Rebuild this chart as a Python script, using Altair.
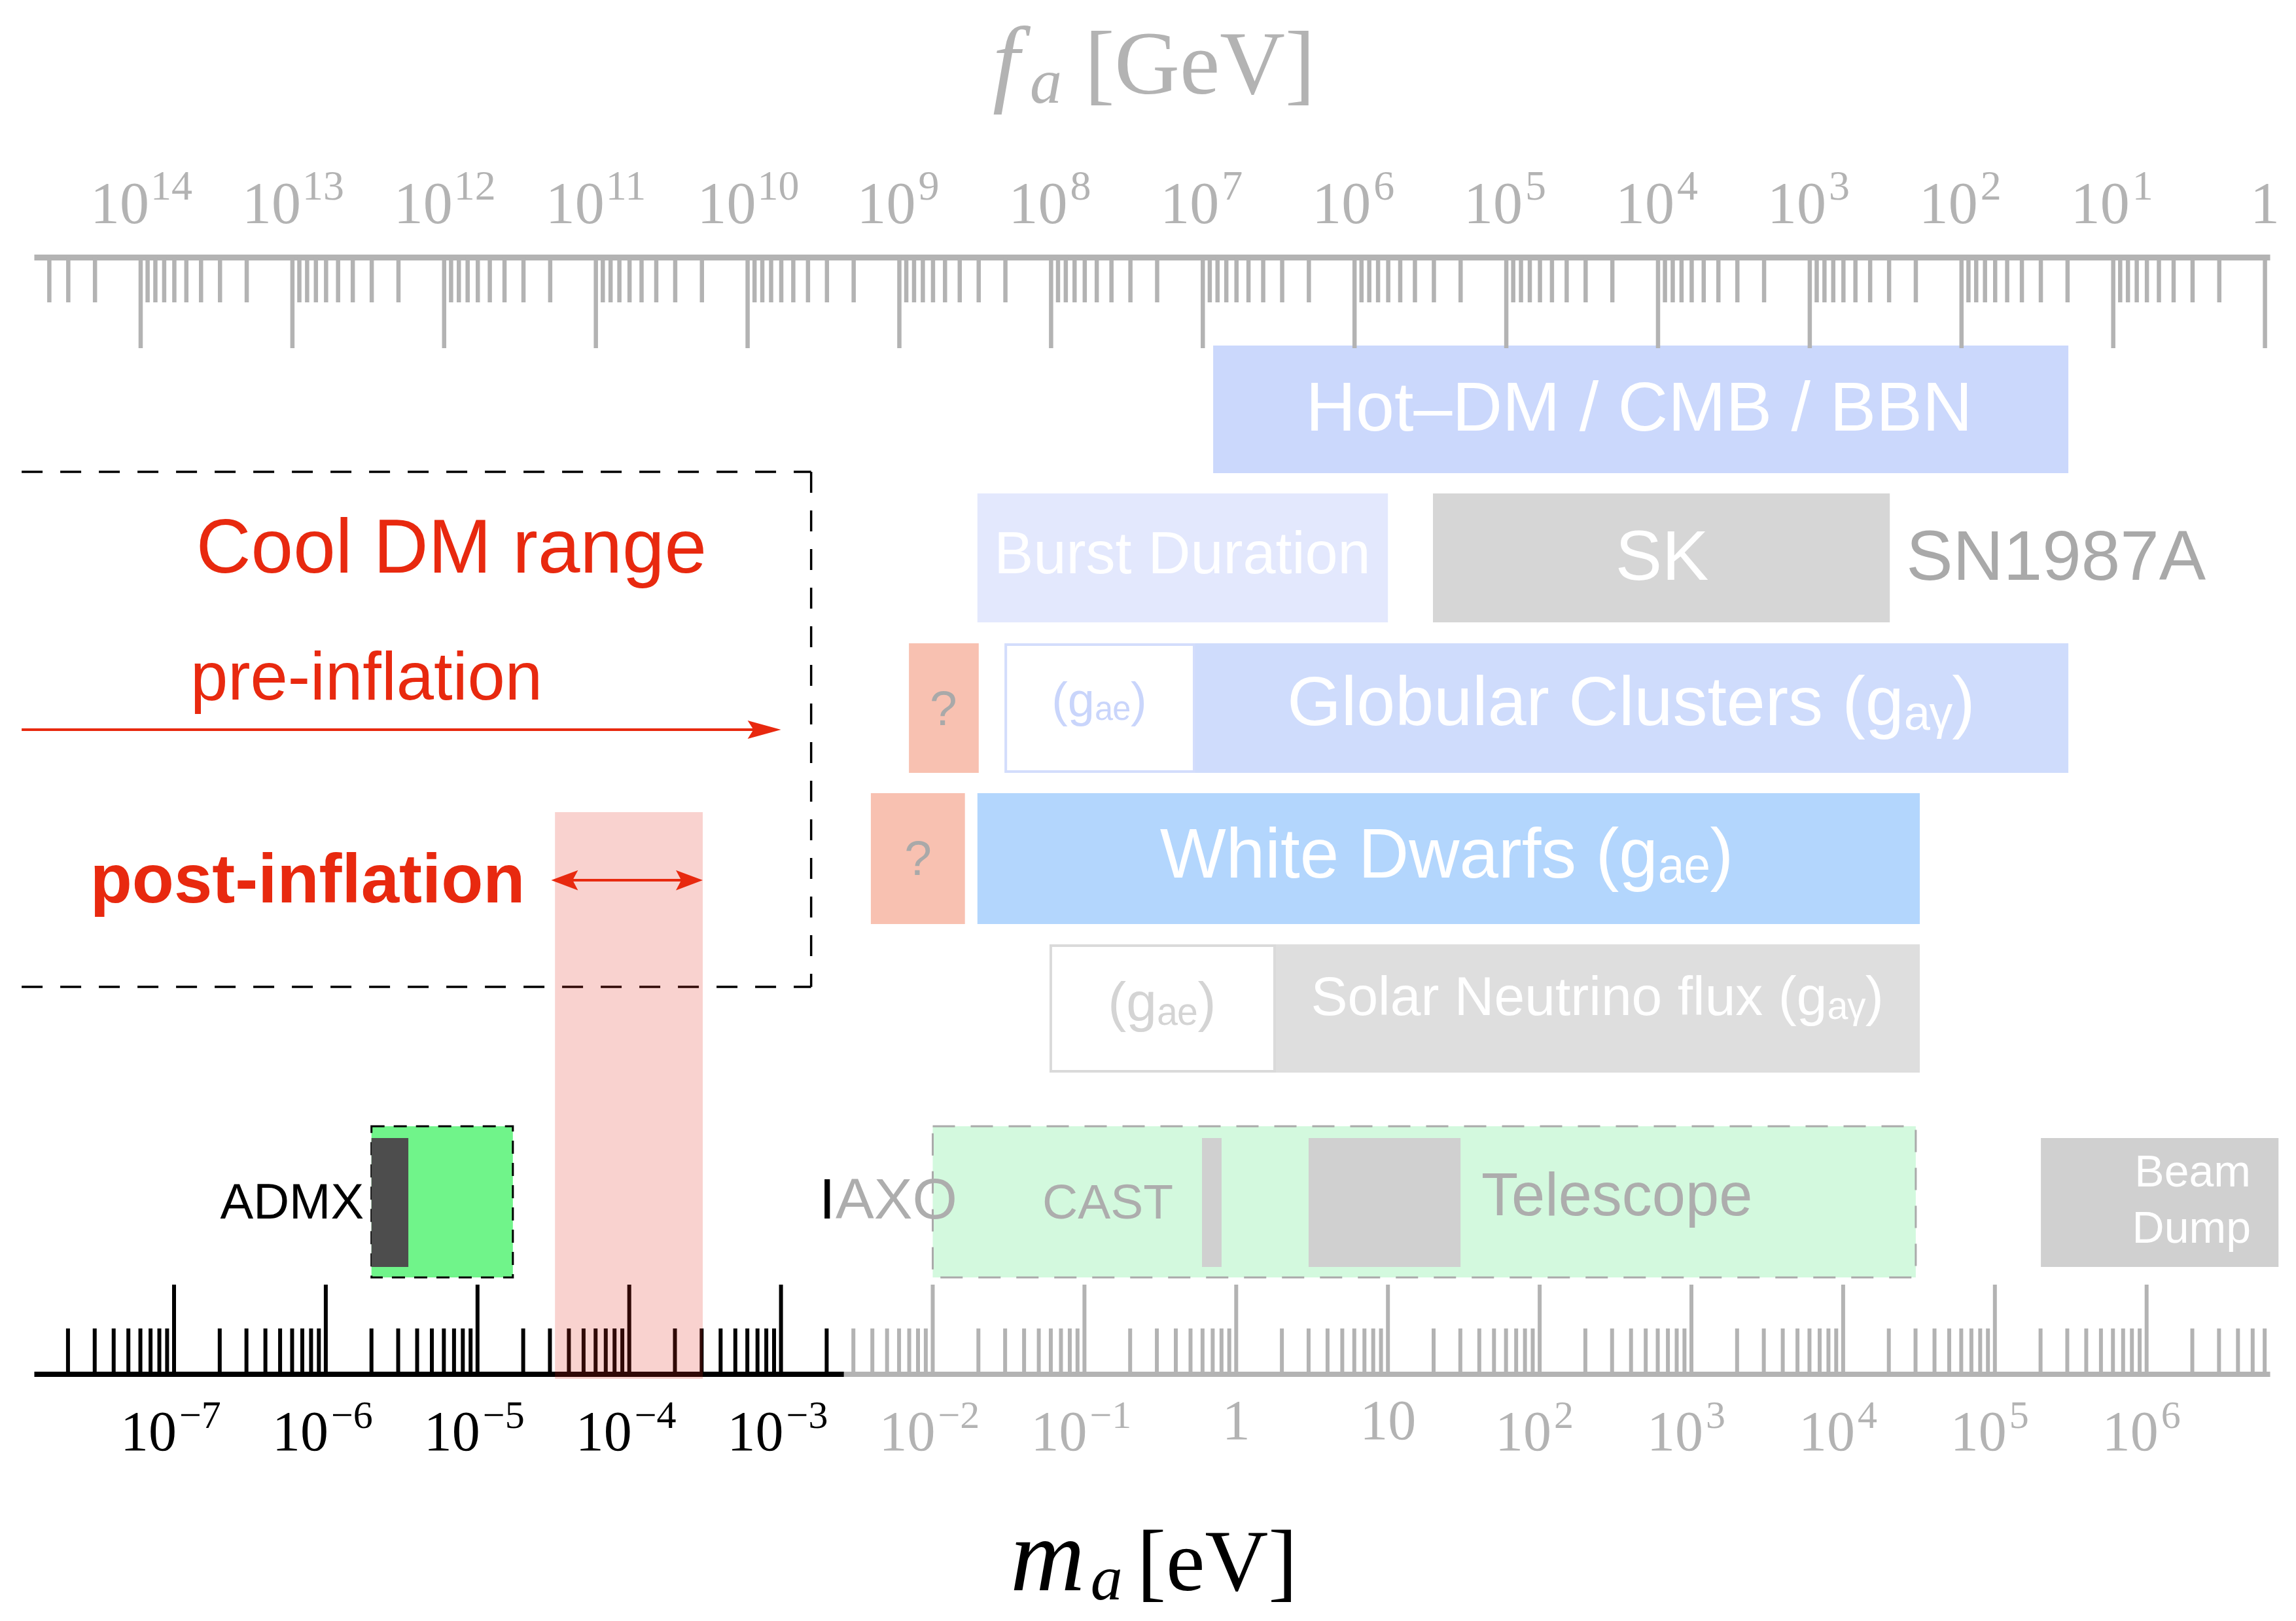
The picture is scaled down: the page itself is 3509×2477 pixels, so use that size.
import math
import altair as alt
import pandas as pd

# ---------------- page / scale calibration ----------------
PAGE_W, PAGE_H, MARGIN = 3509, 2477, 8
W, H = PAGE_W - 2 * MARGIN, PAGE_H - 2 * MARGIN
PX_REF, LOG_REF, PX_PER_DEC = 266.0, -7.0, 231.9      # 10^-7 eV tick and decade width
XMIN = LOG_REF - (PX_REF - MARGIN) / PX_PER_DEC
XMAX = XMIN + W / PX_PER_DEC
LOG_MF = 6.78                                          # log10(m_a[eV] * f_a[GeV])

# ---------------- axis data ----------------
M_DECADES = list(range(-8, 7))
F_DECADES = list(range(0, 15))
MULTS = [1, 2, 3, 4, 5, 6, 7, 8, 9]
M_LABEL_EXP = list(range(-7, 7))
F_LABEL_EXP = list(range(0, 15))
AXIS_LO, AXIS_HI = 1.2e-8, 6.52e6        # extent of both axes [eV]
DARK_LIMIT = 2.6e-3                      # m_a axis is black left of this [eV]

# ---------------- filled regions [eV] ----------------
REGION_LO = [0.705, 0.0197, 19.8, 0.00697, 0.528, 0.00391, 0.0197, 1.79, 2.01e5]
REGION_HI = [3.05e5, 10.0, 2.03e4, 0.0201, 3.05e5, 0.0163, 3.2e4, 3.2e4, 7.4e6]
REGION_ROW = ["hot", "sn", "sn", "gc", "gc", "wd", "wd", "solar", "exp_in"]
REGION_FILL = ["#cbd8fc", "#e3e8fd", "#d6d6d6", "#f8c1b1", "#cfdcfc",
               "#f8c1b1", "#b3d6fd", "#dedede", "#d0d0d0"]

OPEN_LO = [0.0303, 0.060]
OPEN_HI = [0.528, 1.79]
OPEN_ROW = ["gc", "solar"]
OPEN_STROKE = ["#d3ddfc", "#dadada"]

ADMX_RANGE = [2.0e-6, 1.71e-5]
ADMX_SCANNED = [2.0e-6, 3.5e-6]
IAXO_RANGE = [1.0e-2, 3.01e4]
INNER_LO = [0.595, 3.0]           # CAST, telescope
INNER_HI = [0.801, 30.1]
POST_RANGE = [3.24e-5, 3.05e-4]
COOL_BOX = [9.9e-9, 1.58e-3]
PRE_ARROW = [9.9e-9, 1.0e-3]

# ---------------- layout (page pixels, vertical) ----------------
ROW_TOP = {"hot": 528, "sn": 754, "gc": 983, "wd": 1212, "solar": 1443,
           "exp_out": 1721, "exp_in": 1739, "pink": 1241, "cool": 721}
ROW_BOT = {"hot": 723, "sn": 951, "gc": 1181, "wd": 1412, "solar": 1639,
           "exp_out": 1952, "exp_in": 1936, "pink": 2107, "cool": 1508}
TOP_AXIS_Y, TOP_MINOR_END, TOP_MAJOR_END = 393.5, 462, 532
BOT_AXIS_Y, BOT_MINOR_END, BOT_MAJOR_END = 2100, 2030, 1963
PRE_Y, POST_Y = 1115, 1345

RED = "#e8290f"
GREY = "#b3b3b3"
TGREY = "#adadad"
SANS = "Liberation Sans"
SERIF = "Liberation Serif"

XS = alt.Scale(domain=[XMIN, XMAX], nice=False, zero=False)
YS = alt.Scale(domain=[MARGIN, MARGIN + H], reverse=True, nice=False, zero=False)


def lg(v):
    return math.log10(v)


def X(f):
    return alt.X(f, type="quantitative", scale=XS, axis=None)


def Y(f):
    return alt.Y(f, type="quantitative", scale=YS, axis=None)


layers = []

# ---- filled regions ----
reg = pd.DataFrame({
    "x1": [lg(v) for v in REGION_LO], "x2": [lg(v) for v in REGION_HI],
    "y1": [ROW_TOP[r] for r in REGION_ROW], "y2": [ROW_BOT[r] for r in REGION_ROW],
    "c": REGION_FILL})
layers.append(alt.Chart(reg).mark_rect(opacity=1).encode(
    x=X("x1"), x2="x2", y=Y("y1"), y2="y2", color=alt.Color("c:N", scale=None)))

opn = pd.DataFrame({
    "x1": [lg(v) for v in OPEN_LO], "x2": [lg(v) for v in OPEN_HI],
    "y1": [ROW_TOP[r] + 2 for r in OPEN_ROW], "y2": [ROW_BOT[r] - 2 for r in OPEN_ROW],
    "s": OPEN_STROKE})
layers.append(alt.Chart(opn).mark_rect(fill="white", strokeWidth=4, opacity=1).encode(
    x=X("x1"), x2="x2", y=Y("y1"), y2="y2", stroke=alt.Stroke("s:N", scale=None)))

# ---- experiment boxes ----
admx = pd.DataFrame({"x1": [lg(ADMX_RANGE[0])], "x2": [lg(ADMX_RANGE[1])],
                     "y1": [ROW_TOP["exp_out"]], "y2": [ROW_BOT["exp_out"]]})
layers.append(alt.Chart(admx).mark_rect(fill="#70f48a", stroke="black", strokeWidth=3,
                                        strokeDash=[20, 14], opacity=1).encode(
    x=X("x1"), x2="x2", y=Y("y1"), y2="y2"))
iaxo = pd.DataFrame({"x1": [lg(IAXO_RANGE[0])], "x2": [lg(IAXO_RANGE[1])],
                     "y1": [ROW_TOP["exp_out"]], "y2": [ROW_BOT["exp_out"]]})
layers.append(alt.Chart(iaxo).mark_rect(fill="#d3f9de", stroke="#aaaaaa", strokeWidth=3,
                                        strokeDash=[34, 24], opacity=1).encode(
    x=X("x1"), x2="x2", y=Y("y1"), y2="y2"))
scan = pd.DataFrame({"x1": [lg(ADMX_SCANNED[0])], "x2": [lg(ADMX_SCANNED[1])],
                     "y1": [ROW_TOP["exp_in"]], "y2": [ROW_BOT["exp_in"]]})
layers.append(alt.Chart(scan).mark_rect(fill="#4d4d4d", opacity=1).encode(
    x=X("x1"), x2="x2", y=Y("y1"), y2="y2"))
inner = pd.DataFrame({"x1": [lg(v) for v in INNER_LO], "x2": [lg(v) for v in INNER_HI],
                      "y1": [ROW_TOP["exp_in"]] * 2, "y2": [ROW_BOT["exp_in"]] * 2})
layers.append(alt.Chart(inner).mark_rect(fill="#d0d0d0", opacity=1).encode(
    x=X("x1"), x2="x2", y=Y("y1"), y2="y2"))

# ---- cool DM dashed box ----
cl, cr = lg(COOL_BOX[0]), lg(COOL_BOX[1])
hbox = pd.DataFrame({"x1": [cl, cl], "x2": [cr, cr], "y": [ROW_TOP["cool"], ROW_BOT["cool"]]})
layers.append(alt.Chart(hbox).mark_rule(color="black", strokeWidth=3.5, strokeDash=[32, 27]).encode(
    x=X("x1"), x2="x2", y=Y("y")))
vbox = pd.DataFrame({"x": [cr], "y1": [ROW_TOP["cool"]], "y2": [ROW_BOT["cool"]]})
layers.append(alt.Chart(vbox).mark_rule(color="black", strokeWidth=3.5, strokeDash=[32, 27]).encode(
    x=X("x"), y=Y("y1"), y2="y2"))

# ---- axes ----
lo, hi = lg(AXIS_LO), lg(AXIS_HI)
split = lg(DARK_LIMIT)
bline = pd.DataFrame({"x1": [lo, split], "x2": [split, hi], "y": [BOT_AXIS_Y] * 2, "c": ["black", GREY]})
layers.append(alt.Chart(bline).mark_rule(strokeWidth=8).encode(
    x=X("x1"), x2="x2", y=Y("y"), color=alt.Color("c:N", scale=None)))
tline = pd.DataFrame({"x1": [lo], "x2": [hi], "y": [TOP_AXIS_Y]})
layers.append(alt.Chart(tline).mark_rule(strokeWidth=9, color=GREY).encode(
    x=X("x1"), x2="x2", y=Y("y")))

bt = []
for k in M_DECADES:
    for j in MULTS:
        L = k + math.log10(j)
        if lo <= L <= hi:
            bt.append({"x": L, "y1": BOT_AXIS_Y,
                       "y2": BOT_MAJOR_END if j == 1 else BOT_MINOR_END,
                       "c": "black" if L < split else GREY})
layers.append(alt.Chart(pd.DataFrame(bt)).mark_rule(strokeWidth=6).encode(
    x=X("x"), y=Y("y1"), y2="y2", color=alt.Color("c:N", scale=None)))

tt = []
for k in F_DECADES:
    for j in MULTS:
        L = LOG_MF - (k + math.log10(j))
        if lo + 0.01 <= L <= hi:
            tt.append({"x": L, "y1": TOP_AXIS_Y,
                       "y2": TOP_MAJOR_END if j == 1 else TOP_MINOR_END})
layers.append(alt.Chart(pd.DataFrame(tt)).mark_rule(strokeWidth=6.5, color=GREY).encode(
    x=X("x"), y=Y("y1"), y2="y2"))

# ---- post-inflation pink band (overlays ticks) ----
pink = pd.DataFrame({"x1": [lg(POST_RANGE[0])], "x2": [lg(POST_RANGE[1])],
                     "y1": [ROW_TOP["pink"]], "y2": [ROW_BOT["pink"]]})
layers.append(alt.Chart(pink).mark_rect(fill="#e52b1d", opacity=0.21).encode(
    x=X("x1"), x2="x2", y=Y("y1"), y2="y2"))

# ---- arrows ----
RIGHT_HEAD = "M0,0 L-2,-0.55 L-1.65,0 L-2,0.55 Z"
RIGHT_HEAD2 = "M0,0 L-2,-0.75 L-1.6,0 L-2,0.75 Z"
LEFT_HEAD2 = "M0,0 L2,-0.75 L1.6,0 L2,0.75 Z"
pre = pd.DataFrame({"x1": [lg(PRE_ARROW[0])], "x2": [lg(PRE_ARROW[1]) - 0.15], "y": [PRE_Y]})
layers.append(alt.Chart(pre).mark_rule(color=RED, strokeWidth=4).encode(x=X("x1"), x2="x2", y=Y("y")))
layers.append(alt.Chart(pd.DataFrame({"x": [lg(PRE_ARROW[1])], "y": [PRE_Y]})).mark_point(
    shape=RIGHT_HEAD, filled=True, size=2601, color=RED, opacity=1, strokeWidth=0).encode(x=X("x"), y=Y("y")))
pa, pb = lg(POST_RANGE[0]) - 0.025, lg(POST_RANGE[1])
post = pd.DataFrame({"x1": [pa + 0.1], "x2": [pb - 0.1], "y": [POST_Y]})
layers.append(alt.Chart(post).mark_rule(color=RED, strokeWidth=4).encode(x=X("x1"), x2="x2", y=Y("y")))
layers.append(alt.Chart(pd.DataFrame({"x": [pb], "y": [POST_Y]})).mark_point(
    shape=RIGHT_HEAD2, filled=True, size=1681, color=RED, opacity=1, strokeWidth=0).encode(x=X("x"), y=Y("y")))
layers.append(alt.Chart(pd.DataFrame({"x": [pa], "y": [POST_Y]})).mark_point(
    shape=LEFT_HEAD2, filled=True, size=1681, color=RED, opacity=1, strokeWidth=0).encode(x=X("x"), y=Y("y")))


# ---- text helper ----
def txt(s, x, y, size, color, align="center", font=SANS, weight="normal",
        style="normal", line_height=None):
    df = pd.DataFrame({"x": [x], "y": [y], "t": [s]})
    props = dict(align=align, baseline="alphabetic", font=font, fontSize=size,
                 fontWeight=weight, fontStyle=style, color=color)
    if line_height:
        props["lineBreak"] = "\n"
        props["lineHeight"] = line_height
    return alt.Chart(df).mark_text(**props).encode(x=X("x"), y=Y("y"), text="t:N")


# ---- axis labels ----
def sup(n):
    return str(n).replace("-", "\u2212")


def label_layers(rows, base_y, exp_y, base_size, exp_size, d10, dexp):
    df = pd.DataFrame(rows)
    return [
        alt.Chart(df).mark_text(align="right", baseline="alphabetic", font=SERIF,
                                fontSize=base_size, dx=d10).encode(
            x=X("x"), y=alt.value(base_y - MARGIN), text=alt.value("10"),
            color=alt.Color("c:N", scale=None)),
        alt.Chart(df).mark_text(align="left", baseline="alphabetic", font=SERIF,
                                fontSize=exp_size, dx=dexp).encode(
            x=X("x"), y=alt.value(exp_y - MARGIN), text="e:N",
            color=alt.Color("c:N", scale=None)),
    ]


neg, pos, plain = [], [], []
for k in M_LABEL_EXP:
    c = "black" if k < split else GREY
    if k in (0, 1):
        plain.append({"x": float(k), "t": "1" if k == 0 else "10", "c": c})
    elif k < 0:
        neg.append({"x": float(k), "e": sup(k), "c": c})
    else:
        pos.append({"x": float(k), "e": sup(k), "c": c})
layers += label_layers(neg, 2216, 2182, 86, 60, 4, 8)
layers += label_layers(pos, 2216, 2182, 86, 60, 18, 22)
layers.append(alt.Chart(pd.DataFrame(plain)).mark_text(
    align="center", baseline="alphabetic", font=SERIF, fontSize=86).encode(
    x=X("x"), y=alt.value(2199 - MARGIN), text="t:N", color=alt.Color("c:N", scale=None)))

two, one, fplain = [], [], []
for k in F_LABEL_EXP:
    x = LOG_MF - k
    if k == 0:
        fplain.append({"x": x, "t": "1", "c": GREY})
    elif k >= 10:
        two.append({"x": x, "e": sup(k), "c": GREY})
    else:
        one.append({"x": x, "e": sup(k), "c": GREY})
layers += label_layers(two, 341, 305, 90, 64, 13, 15)
layers += label_layers(one, 341, 305, 90, 64, 25, 29)
layers.append(alt.Chart(pd.DataFrame(fplain)).mark_text(
    align="center", baseline="alphabetic", font=SERIF, fontSize=90).encode(
    x=X("x"), y=alt.value(341 - MARGIN), text="t:N", color=alt.Color("c:N", scale=None)))

# ---- axis titles ----
layers.append(txt("f", -1.6055, 143, 148, GREY, align="left", font=SERIF, style="italic"))
layers.append(txt("a", -1.360, 157, 98, GREY, align="left", font=SERIF, style="italic"))
layers.append(txt("[GeV]", -1.000, 143, 138, GREY, align="left", font=SERIF))
layers.append(txt("m", -1.4889, 2430, 158, "black", align="left", font=SERIF, style="italic"))
layers.append(txt("a", -0.960, 2444, 98, "black", align="left", font=SERIF, style="italic"))
layers.append(txt("[eV]", -0.655, 2430, 134, "black", align="left", font=SERIF))

# ---- annotation texts ----
layers.append(txt("Cool DM range", -5.172, 875, 116, RED))
layers.append(txt("pre-inflation", -5.732, 1069, 103, RED))
layers.append(txt("post-inflation", -6.120, 1379, 105, RED, weight="bold"))
layers.append(txt("ADMX", -5.749, 1862, 76, "black", align="right"))
layers.append(txt("I", -2.748, 1862, 88, "black", align="left"))
layers.append(txt("AXO", -2.640, 1862, 88, TGREY, align="left"))
layers.append(txt("CAST", -0.846, 1862, 75, TGREY))
layers.append(txt("Telescope", 1.616, 1857, 92, TGREY, align="left"))
layers.append(txt("Beam\nDump", 6.687, 1813, 68, "white", align="right", line_height=86))
layers.append(txt("Hot\u2013DM / CMB / BBN", 2.655, 658, 106, "white"))
layers.append(txt("Burst Duration", -0.355, 876, 90, "white"))
layers.append(txt("SK", 2.806, 886, 107, "white"))
layers.append(txt("SN1987A", 4.415, 886, 107, "#a9a9a9", align="left"))
layers.append(txt("?", -1.929, 1108, 75, "#a9a9a9"))
layers.append(txt("?", -2.097, 1337, 75, "#a9a9a9"))
layers.append(txt("(g\u2090\u2091)", -0.903, 1095, 74, "#c9d5fb"))
layers.append(txt("Globular Clusters (g\u2090\u1d67)", 2.603, 1108, 106, "white"))
layers.append(txt("White Dwarfs (g\u2090\u2091)", 1.387, 1341, 107, "white"))
layers.append(txt("(g\u2090\u2091)", -0.489, 1560, 84, "#d4d4d4"))
layers.append(txt("Solar Neutrino flux (g\u2090\u1d67)", 2.379, 1551, 84, "white"))

chart = alt.layer(*layers).properties(
    width=W, height=H, padding=0, autosize=alt.AutoSizeParams(type="none")
).configure_view(stroke=None)

chart.save("out.html", embed_options={"renderer": "svg", "actions": False})
